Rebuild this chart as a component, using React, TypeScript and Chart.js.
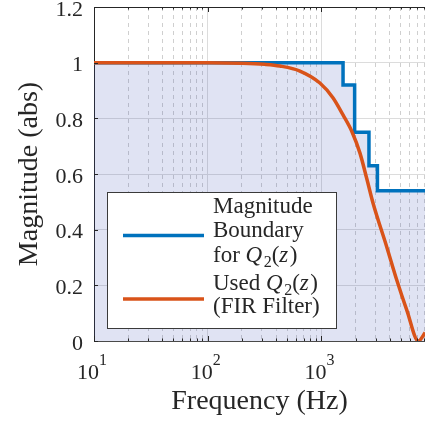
import { useEffect, useRef } from 'react';
import { Chart, registerables } from 'chart.js';

Chart.register(...registerables);

// Magnitude boundary (step limits) for Q2(z)
const boundaryFreq = [10, 1550, 1960, 2620, 3110, 10000];
const boundaryMag = [1, 0.92, 0.75, 0.63, 0.54, 0.54];

// Magnitude response of the FIR filter that is used for Q2(z)
const firFreq = [10, 100, 200, 316, 431, 647, 970, 1263, 1545, 1857, 2184, 2518, 2843, 3751, 4600, 5636, 7130, 8165];
const firMag = [1, 1, 0.998, 0.994, 0.988, 0.97, 0.927, 0.874, 0.813, 0.752, 0.675, 0.58, 0.496, 0.339, 0.219, 0.111, 0, 0.03];

// Axis ticks
const decades = [10, 100, 1000];
const decadeBase = '10';
const decadeExponents = ['1', '2', '3'];
const minorSteps = [2, 3, 4, 5, 6, 7, 8, 9];
const yTicks = [0, 0.2, 0.4, 0.6, 0.8, 1, 1.2];
const yTickLabels = ['0', '0.2', '0.4', '0.6', '0.8', '1', '1.2'];

const X_MIN = 10;
const X_MAX = 8150;

const FONT = "'Liberation Serif', 'Times New Roman', serif";
const INK = '#262626';
const BLUE = '#0072BD';
const ORANGE = '#D95319';

type Run = { t: string; it?: boolean; sub?: boolean };
const q2: Run[] = [{ t: 'Q', it: true }, { t: '2', sub: true }, { t: '(' }, { t: 'z', it: true }, { t: ')' }];
const legendText: Run[][][] = [
  [[{ t: 'Magnitude' }], [{ t: 'Boundary' }], [{ t: 'for ' }, ...q2]],
  [[{ t: 'Used ' }, ...q2], [{ t: '(FIR Filter)' }]],
];

const gridValues: number[] = [];
decades.forEach((d) => {
  gridValues.push(d);
  minorSteps.forEach((m) => {
    if (d * m <= X_MAX) gridValues.push(d * m);
  });
});

const isDecade = (v: number) => decades.includes(v);

// Box frame on top, inward tick marks and decade exponents, placed through the scales
const framePlugin = {
  id: 'frame',
  afterDatasetsDraw(chart: any) {
    const { ctx, chartArea: a, scales } = chart;
    const x = scales.x;
    const y = scales.y;
    ctx.save();
    ctx.strokeStyle = INK;
    ctx.lineWidth = 1;
    ctx.beginPath();
    ctx.moveTo(a.left, a.top + 0.5);
    ctx.lineTo(a.right, a.top + 0.5);
    x.ticks.forEach((t: any) => {
      const px = Math.round(x.getPixelForValue(t.value)) + 0.5;
      const len = isDecade(t.value) ? 5 : 2.5;
      ctx.moveTo(px, a.bottom);
      ctx.lineTo(px, a.bottom - len);
      ctx.moveTo(px, a.top);
      ctx.lineTo(px, a.top + len);
    });
    y.ticks.forEach((t: any) => {
      const py = Math.round(y.getPixelForValue(t.value)) + 0.5;
      ctx.moveTo(a.left, py);
      ctx.lineTo(a.left + 4, py);
    });
    ctx.stroke();

    // exponents of the decade labels
    ctx.fillStyle = INK;
    ctx.font = `16px ${FONT}`;
    ctx.textAlign = 'left';
    ctx.textBaseline = 'alphabetic';
    decades.forEach((d, i) => {
      const px = x.getPixelForValue(d);
      ctx.fillText(decadeExponents[i], px + 5, a.bottom + 24);
    });
    ctx.restore();
  },
};

// Legend box with mixed upright / italic text
const legendPlugin = {
  id: 'mathLegend',
  afterDraw(chart: any) {
    const { ctx, chartArea: a } = chart;
    const left = a.left + 13;
    const top = a.top + 185;
    const w = 229;
    const h = 136;
    ctx.save();
    ctx.fillStyle = '#ffffff';
    ctx.fillRect(left, top, w, h);
    ctx.strokeStyle = '#3a3a3a';
    ctx.lineWidth = 1;
    ctx.strokeRect(left + 0.5, top + 0.5, w, h);

    const sampleY = [top + 43.5, top + 107];
    const baselines = [
      [top + 21, top + 45, top + 69.5],
      [top + 98, top + 120.5],
    ];
    chart.data.datasets.forEach((ds: any, i: number) => {
      ctx.strokeStyle = ds.borderColor;
      ctx.lineWidth = 3.5;
      ctx.beginPath();
      ctx.moveTo(left + 16, sampleY[i]);
      ctx.lineTo(left + 97, sampleY[i]);
      ctx.stroke();
      ctx.fillStyle = INK;
      ctx.textBaseline = 'alphabetic';
      ctx.textAlign = 'left';
      legendText[i].forEach((line, j) => {
        let cx = left + 106;
        const by = baselines[i][j];
        line.forEach((r) => {
          if (r.sub) {
            ctx.font = `16px ${FONT}`;
            ctx.fillText(r.t, cx, by + 5);
          } else {
            ctx.font = `${r.it ? 'italic ' : ''}23px ${FONT}`;
            ctx.fillText(r.t, cx, by);
          }
          cx += ctx.measureText(r.t).width + (r.it ? 1.5 : 0);
        });
      });
    });
    ctx.restore();
  },
};

export default function App() {
  const canvasRef = useRef<HTMLCanvasElement | null>(null);

  useEffect(() => {
    const canvas = canvasRef.current;
    if (!canvas) return;
    const chart = new Chart(canvas, {
      type: 'line',
      data: {
        datasets: [
          {
            label: 'Magnitude Boundary for Q2(z)',
            data: boundaryFreq.map((f, i) => ({ x: f, y: boundaryMag[i] })),
            borderColor: BLUE,
            borderWidth: 3.5,
            stepped: 'before',
            pointRadius: 0,
            fill: 'origin',
            backgroundColor: 'rgba(60, 80, 180, 0.16)',
            order: 2,
          },
          {
            label: 'Used Q2(z) (FIR Filter)',
            data: firFreq.map((f, i) => ({ x: f, y: firMag[i] })),
            borderColor: ORANGE,
            borderWidth: 3.5,
            pointRadius: 0,
            fill: false,
            cubicInterpolationMode: 'monotone',
            order: 1,
          },
        ],
      },
      options: {
        responsive: false,
        animation: false,
        layout: { padding: { top: 7, right: 0, left: 0, bottom: 0 } },
        plugins: {
          legend: { display: false },
          tooltip: { enabled: false },
        },
        scales: {
          x: {
            type: 'logarithmic',
            min: X_MIN,
            max: X_MAX,
            afterBuildTicks: (s: any) => {
              s.ticks = gridValues.map((v) => ({ value: v }));
            },
            afterFit: (s: any) => {
              s.height = 80;
              s.paddingLeft = 0;
              s.paddingRight = 0;
            },
            ticks: {
              autoSkip: false,
              maxRotation: 0,
              minRotation: 0,
              padding: 19,
              labelOffset: -6,
              color: INK,
              font: { family: FONT, size: 22 },
              callback: (v: any) => (isDecade(Number(v)) ? decadeBase : ''),
            },
            grid: {
              drawTicks: false,
              lineWidth: 1,
              color: (c: any) => (c.tick && !isDecade(c.tick.value) ? '#cfcfcf' : '#dcdcdc'),
            },
            border: {
              display: true,
              color: '#4a4a4a',
              width: 1,
              dash: (c: any) => (c.tick && !isDecade(c.tick.value) ? [4, 4] : []),
            },
            title: {
              display: true,
              text: 'Frequency (Hz)',
              color: INK,
              font: { family: FONT, size: 28 },
              padding: { top: 0, bottom: 3 },
            },
          },
          y: {
            min: 0,
            max: 1.2,
            afterBuildTicks: (s: any) => {
              s.ticks = yTicks.map((v) => ({ value: v }));
            },
            afterFit: (s: any) => {
              s.width = 94;
              s.paddingTop = 0;
              s.paddingBottom = 0;
            },
            ticks: {
              padding: 11,
              labelOffset: 3,
              color: INK,
              font: { family: FONT, size: 22 },
              callback: (v: any) => {
                const k = yTicks.indexOf(Number(v));
                return k >= 0 ? yTickLabels[k] : '';
              },
            },
            grid: { drawTicks: false, color: '#dcdcdc', lineWidth: 1 },
            border: { display: true, color: INK, width: 1 },
            title: {
              display: true,
              text: 'Magnitude (abs)',
              color: INK,
              font: { family: FONT, size: 28 },
              padding: { top: 13, bottom: 0 },
            },
          },
        },
      },
      plugins: [framePlugin, legendPlugin],
    } as any);
    return () => chart.destroy();
  }, []);

  return (
    <div style={{ position: 'fixed', left: 0, top: 0, width: 425, height: 421, background: '#ffffff' }}>
      <canvas ref={canvasRef} width={425} height={421} style={{ display: 'block' }} />
    </div>
  );
}
